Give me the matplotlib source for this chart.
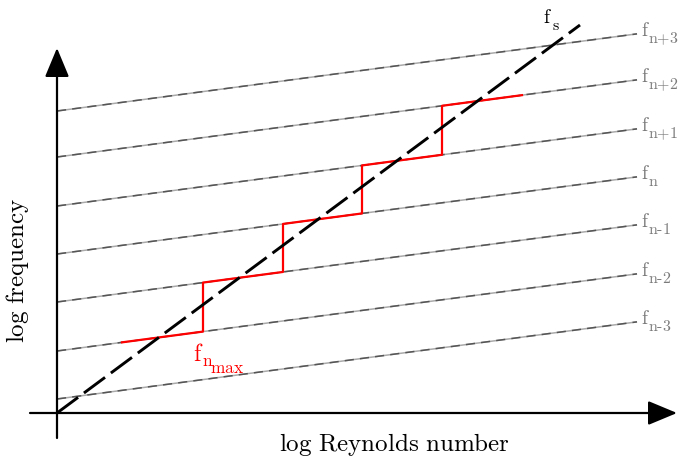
import matplotlib.pyplot as plt
import numpy as np

plt.rcParams['mathtext.fontset'] = 'cm'

# intercepts of the f_n lines at log Re = 0 (n-3 ... n+3)
intercepts = [14, 62, 111, 159, 207, 256, 302]
labels = ['n-3', 'n-2', 'n-1', 'n', 'n+1', 'n+2', 'n+3']
slope_f = 0.133
x_end = 580

# Strouhal line f_s
fs_x = [0, 523]
fs_y = [0, 388]

# red staircase: jump positions on log Re, starting on f_{n-2}
stair_start = 65
stair_jumps = [146, 226, 305, 385]
stair_stop = 465

fig = plt.figure(figsize=(6.79, 4.62), dpi=100)
ax = fig.add_axes([0, 0, 1, 1])
ax.set_xlim(-57, 622)
ax.set_ylim(-49, 413)
ax.axis('off')


def rm(s):
    return r'$\text{' + s + '}$'


# gray f_n lines
xs = np.array([0, x_end])
for b, lab in zip(intercepts, labels):
    ys = b + slope_f * xs
    ax.plot(xs, ys, color='#aaaaaa', lw=1.1, solid_capstyle='butt')
    ax.plot(xs, ys, color='#555555', lw=1.1, dashes=(6, 4))
    ax.text(x_end + 4, ys[1] - 2.5, rm('f'), color='#7a7a7a', fontsize=14, va='baseline')
    ax.text(x_end + 11.5, ys[1] - 9, rm(lab), color='#7a7a7a', fontsize=11.5, va='baseline')

# staircase
sx = [stair_start]
sy = [intercepts[1] + slope_f * stair_start]
for i, xj in enumerate(stair_jumps):
    sx += [xj, xj]
    sy += [intercepts[1 + i] + slope_f * xj, intercepts[2 + i] + slope_f * xj]
sx.append(stair_stop)
sy.append(intercepts[5] + slope_f * stair_stop)
ax.plot(sx, sy, color='red', lw=1.6)

# f_s line
ax.plot(fs_x, fs_y, color='black', lw=2.1, dashes=(9, 2.5))
ax.text(486, 390, rm('f'), fontsize=14, color='black', va='baseline')
ax.text(494.5, 383, rm('s'), fontsize=11.5, color='black', va='baseline')

# f_nmax label
ax.text(136, 52, rm('f'), fontsize=17, color='red', va='baseline')
ax.text(145, 47, rm('n'), fontsize=12.5, color='red', va='baseline')
ax.text(153, 40, rm('max'), fontsize=12.5, color='red', va='baseline')

# axes arrows
arr = dict(arrowstyle='-|>,head_length=1.8,head_width=0.75', mutation_scale=10,
           lw=1.6, color='black', shrinkA=0, shrinkB=0)
ax.annotate('', xy=(620, 0), xytext=(-27, 0), arrowprops=arr)
ax.annotate('', xy=(0, 365), xytext=(0, -25), arrowprops=arr)

ax.text(337, -32, r'$\mathrm{log\ Reynolds\ number}$', fontsize=18, ha='center', va='center')
ax.text(-39, 143, r'$\mathrm{log\ frequency}$', fontsize=18, ha='center', va='center', rotation=90)

fig.savefig('out.png', dpi=100)
